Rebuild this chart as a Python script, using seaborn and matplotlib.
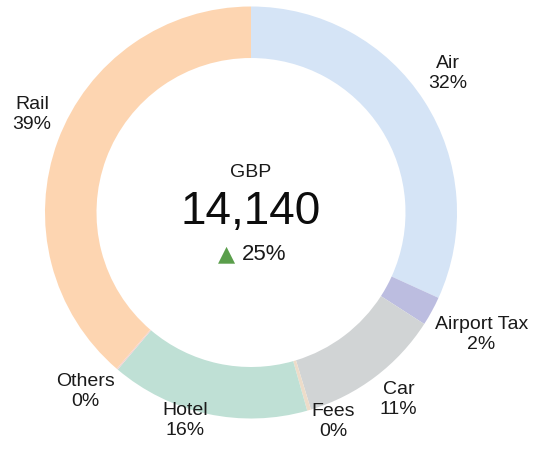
import numpy as np
import matplotlib
matplotlib.use("Agg")
import matplotlib.pyplot as plt
import seaborn as sns

# ── Data ────────────────────────────────────────────────────────────────────
categories = ["Air", "Airport Tax", "Car", "Fees", "Hotel", "Others", "Rail"]
shares = [31.8, 2.3, 11.2, 0.3, 15.6, 0.1, 38.7]
total_label = "14,140"
currency = "GBP"
change_label = "25%"

COLORS = ["#d5e4f6", "#bcbde0", "#d1d4d5", "#eddcc9", "#bfe0d5", "#f3d1d1", "#fdd5b1"]

# label placement: (radius factor, angle shift in degrees, ccw positive)
LABEL_LAYOUT = {
    "Air": (1.17, 2.5),
    "Airport Tax": (1.265, 0.8),
    "Car": (1.155, 1.2),
    "Fees": (1.09, 5.1),
    "Hotel": (1.06, -5.4),
    "Others": (1.185, -2.2),
    "Rail": (1.165, -3.8),
}

sns.set_theme(style="white")
plt.rcParams["font.family"] = ["Liberation Sans", "DejaVu Sans"]
TEXT = "#1a1a1a"

fig = plt.figure(figsize=(5.34, 4.49), dpi=100)
ax = fig.add_axes([0, 0, 1, 1])

wedges, _ = ax.pie(
    shares, colors=COLORS, startangle=90, counterclock=False, radius=1.0,
    wedgeprops=dict(width=0.25, edgecolor="none", linewidth=0),
)

for w, name, val in zip(wedges, categories, shares):
    r, shift = LABEL_LAYOUT[name]
    mid = np.deg2rad((w.theta1 + w.theta2) / 2 + shift)
    ax.text(r * np.cos(mid), r * np.sin(mid), f"{name}\n{val:.0f}%",
            ha="center", va="center", fontsize=14, color=TEXT, linespacing=1.22)

# centre text
ax.text(0, 0.172, currency, ha="center", va="baseline", fontsize=14, color=TEXT)
ax.text(0, -0.056, total_label, ha="center", va="baseline", fontsize=33, color="#0d0d0d")
ax.text(-0.078, -0.2306, "▲", ha="right", va="baseline", fontsize=16,
        color="#5a9e4b", family="DejaVu Sans")
ax.text(-0.0437, -0.2306, change_label, ha="left", va="baseline", fontsize=16, color=TEXT)

ax.set_xlim(-251 / 206, (534 - 251) / 206)
ax.set_ylim((212.5 - 449) / 206, 212.5 / 206)
ax.set_aspect("equal")
ax.axis("off")

fig.savefig("out.png", dpi=100, facecolor="white")
